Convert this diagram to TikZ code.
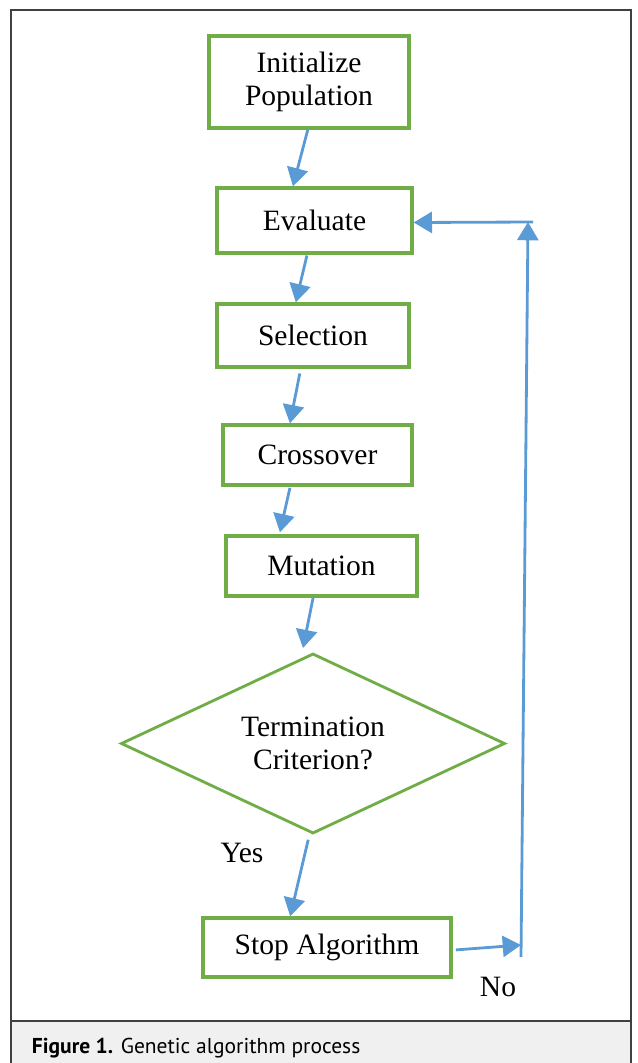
\documentclass[tikz,border=0pt]{standalone}
\usepackage{fontspec}
\setmainfont{Liberation Serif}
\newfontfamily\capfont{PT Sans}
\usetikzlibrary{arrows.meta, shapes.geometric}

\definecolor{boxgreen}{RGB}{112,173,71}
\definecolor{lineblue}{RGB}{91,155,213}
\definecolor{framegray}{RGB}{64,64,64}
\definecolor{capgray}{RGB}{240,240,240}

\tikzset{
	procbox/.style={draw=boxgreen, line width=2.4pt, fill=white, align=center, inner sep=0pt,
		font=\fontsize{21}{23.5}\selectfont},
	decision/.style={procbox, line width=2pt, shape=diamond, aspect=2.1},
	flowline/.style={draw=lineblue, line width=2pt, -{Triangle[length=13pt,width=15pt]}},
	label/.style={font=\fontsize{21}{23.5}\selectfont}
}

\begin{document}
\begin{tikzpicture}[x=0.025cm, y=-0.025cm]
					\useasboundingbox (0,0) rectangle (637,1063);
					
					% frame and caption band
					\fill[capgray] (11,1021) rectangle (631,1063);
					\draw[framegray, line width=1pt] (11,1063) -- (11,10) -- (631,10) -- (631,1063);
					\draw[framegray, line width=1pt] (11,1021) -- (631,1021);
					\node[anchor=base west, font=\capfont\fontsize{15.3}{18}\selectfont] (caption) at (27,1053)
						{\textbf{Figure 1.} Genetic algorithm process};
					
					% steps
					\node[procbox, minimum width=5.0cm, minimum height=2.3cm] (init) at (309,82) {Initialize\\Population};
					\node[procbox, minimum width=4.875cm, minimum height=1.625cm] (eval) at (314.5,220.5) {Evaluate};
					\node[procbox, minimum width=4.8cm, minimum height=1.575cm] (sel) at (313,335.5) {Selection};
					\node[procbox, minimum width=4.725cm, minimum height=1.5cm] (cross) at (317.5,455) {Crossover};
					\node[procbox, minimum width=4.775cm, minimum height=1.5cm] (mut) at (321.5,566) {Mutation};
					\node[decision, minimum width=9.6cm, minimum height=4.5cm] (term) at (313,743.5) {Termination\\Criterion?};
					\node[procbox, minimum width=6.2cm, minimum height=1.475cm] (stop) at (327,947.5) {Stop Algorithm};
					
					\node[label] (yes) at (242,853) {Yes};
					\node[label] (no) at (498,987) {No};
					
					% loop back
					\coordinate (noin) at (521,945);
					\coordinate (nobot) at (521,957);
					\coordinate (notop) at (528,222);
					\coordinate (noturn) at (533,222);
					
					\draw[flowline] ([xshift=-0.03cm]init.south) -- ([xshift=-0.54cm]eval.north);
					\draw[flowline] ([xshift=-0.19cm,yshift=-0.02cm]eval.south) -- ([xshift=-0.43cm]sel.north);
					\draw[flowline] ([xshift=-0.33cm,yshift=-0.12cm]sel.south) -- ([xshift=-0.69cm]cross.north);
					\draw[flowline] ([xshift=-0.69cm,yshift=-0.03cm]cross.south) -- ([xshift=-1.04cm,yshift=0.05cm]mut.north);
					\draw[flowline] ([xshift=-0.21cm]mut.south) -- ([xshift=-0.25cm,yshift=0.1cm]term.north);
					\draw[flowline] ([xshift=-0.12cm,yshift=-0.12cm]term.south) -- ([xshift=-0.92cm]stop.north);
					\draw[flowline] ([xshift=0.08cm,yshift=-0.06cm]stop.east) -- (noin);
					\draw[flowline] (nobot) -- (notop);
					\draw[flowline] (noturn) -- ([yshift=-0.05cm]eval.east);
				\end{tikzpicture}
\end{document}
